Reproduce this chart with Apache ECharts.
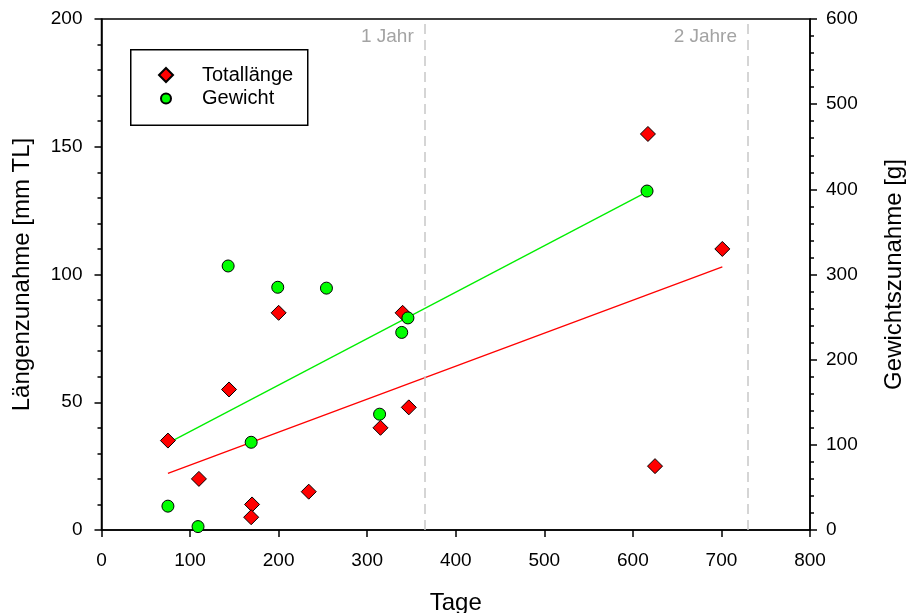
<!DOCTYPE html>
<html>
<head>
<meta charset="utf-8">
<script src="https://cdn.jsdelivr.net/npm/echarts@6/dist/echarts.min.js"></script>
<style>html,body{margin:0;padding:0;background:#fff;}#c{width:907px;height:613px;}</style>
</head>
<body>
<div id="c"></div>
<script>
// Totallänge (left axis, mm TL)
const lenDays = [75, 110, 144, 200, 170, 169, 234, 315, 340, 347, 617, 701, 625];
const lenVals = [35, 20, 55, 85, 10, 5, 15, 40, 85, 48, 155, 110, 25];
// Gewicht (right axis, g)
const wDays = [75, 109, 143, 199, 169, 254, 314, 339, 346, 616];
const wVals = [28, 4, 310, 285, 103, 284, 136, 232, 249, 398];
// regression lines (endpoints)
const lenFitDays = [75, 701];
const lenFitVals = [22.2, 103];
const wFitDays = [75, 616];
const wFitVals = [102, 397];
// reference lines
const yearDays = [365, 730];
const yearLabels = ['1 Jahr', '2 Jahre'];
const yearLabelY = 193;

const FONT = 'Arial, "Liberation Sans", sans-serif';
const zip = (a, b) => a.map((v, i) => [v, b[i]]);

const chart = echarts.init(document.getElementById('c'), null, {renderer: 'canvas'});
const axisLine = {show: true, lineStyle: {color: '#000', width: 1.5}};
const legendText = {fontFamily: FONT, fontSize: 20, color: '#000', lineHeight: 20};
chart.setOption({
  animation: false,
  backgroundColor: '#fff',
  grid: {left: 101.5, right: 97, top: 19, bottom: 83, outerBoundsMode: 'none', containLabel: false,
         show: true, borderColor: '#000', borderWidth: 1.5, backgroundColor: 'transparent'},
  graphic: [{
    type: 'rect', left: 130, top: 49, z: 10,
    shape: {width: 177, height: 75.5},
    style: {fill: 'transparent', stroke: '#000', lineWidth: 1.5}
  }],
  legend: [{
    data: ['Totallänge'], orient: 'vertical', left: 158, top: 65, padding: 0,
    itemWidth: 14, itemHeight: 14,
    textStyle: Object.assign({padding: [0, 0, 0, 24]}, legendText)
  }, {
    data: ['Gewicht'], orient: 'vertical', left: 160, top: 88.5, padding: 0,
    itemWidth: 10, itemHeight: 10,
    textStyle: Object.assign({padding: [0, 0, 0, 26]}, legendText)
  }],
  xAxis: {
    type: 'value', min: 0, max: 800, interval: 100,
    name: 'Tage', nameLocation: 'middle', nameGap: 61,
    nameTextStyle: {fontFamily: FONT, fontSize: 24, color: '#000'},
    axisLine: axisLine,
    axisTick: {show: true, inside: false, length: 7, lineStyle: {color: '#000', width: 1.5}},
    axisLabel: {fontFamily: FONT, fontSize: 19, color: '#000', margin: 21},
    splitLine: {show: false}
  },
  yAxis: [{
    type: 'value', min: 0, max: 200, interval: 50, position: 'left',
    name: 'Längenzunahme [mm TL]', nameLocation: 'middle', nameGap: 67,
    nameTextStyle: {fontFamily: FONT, fontSize: 24, color: '#000'},
    axisLine: axisLine,
    axisTick: {show: true, inside: false, length: 7, lineStyle: {color: '#000', width: 1.5}},
    minorTick: {show: true, splitNumber: 5, length: 4, lineStyle: {color: '#000', width: 1.5}},
    axisLabel: {fontFamily: FONT, fontSize: 19, color: '#000', margin: 19},
    splitLine: {show: false}
  }, {
    type: 'value', min: 0, max: 600, interval: 100, position: 'right',
    name: 'Gewichtszunahme [g]', nameLocation: 'middle', nameGap: 72, nameRotate: 90,
    nameTextStyle: {fontFamily: FONT, fontSize: 24, color: '#000'},
    axisLine: axisLine,
    axisTick: {show: true, inside: false, length: 7, lineStyle: {color: '#000', width: 1.5}},
    minorTick: {show: true, splitNumber: 5, length: 4, lineStyle: {color: '#000', width: 1.5}},
    axisLabel: {fontFamily: FONT, fontSize: 19, color: '#000', margin: 16},
    splitLine: {show: false}
  }],
  series: [
    {
      name: 'yearlines', type: 'scatter', yAxisIndex: 0, symbolSize: 0, z: 1, silent: true,
      data: yearDays.map(d => [d, yearLabelY]),
      label: {show: true, position: 'left', distance: 11, formatter: p => yearLabels[p.dataIndex],
              fontFamily: FONT, fontSize: 19, color: '#8c8c8c'},
      markLine: {
        silent: true, symbol: 'none', label: {show: false},
        lineStyle: {color: '#c8c8c8', width: 1.5, type: [10, 6]},
        data: yearDays.map(d => ({xAxis: d}))
      }
    },
    {
      name: 'fitLen', type: 'line', yAxisIndex: 0, showSymbol: false, symbol: 'none', z: 2,
      lineStyle: {color: '#ff0000', width: 1.3},
      data: zip(lenFitDays, lenFitVals)
    },
    {
      name: 'fitW', type: 'line', yAxisIndex: 1, showSymbol: false, symbol: 'none', z: 2,
      lineStyle: {color: '#00ee00', width: 1.3},
      data: zip(wFitDays, wFitVals)
    },
    {
      name: 'Totallänge', type: 'scatter', yAxisIndex: 0, symbol: 'diamond', symbolSize: [15, 15], z: 3,
      itemStyle: {color: '#ff0000', borderColor: '#000', borderWidth: 1, opacity: 1},
      data: zip(lenDays, lenVals)
    },
    {
      name: 'Gewicht', type: 'scatter', yAxisIndex: 1, symbol: 'circle', symbolSize: 12, z: 3,
      itemStyle: {color: '#00ff00', borderColor: '#000', borderWidth: 1, opacity: 1},
      data: zip(wDays, wVals)
    }
  ]
});
</script>
</body>
</html>
